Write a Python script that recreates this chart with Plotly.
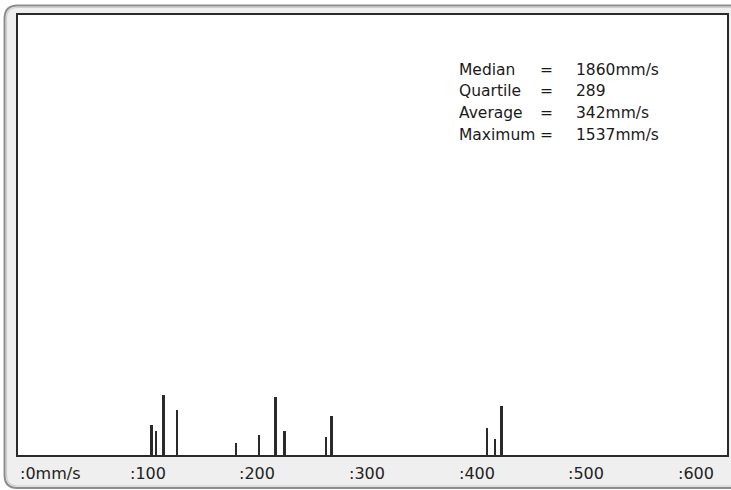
import plotly.graph_objects as go

# ---- data ----
speed_mm_s = [122, 126, 133, 145, 199, 220, 235, 243, 281, 286, 428, 435, 441]
counts = [30, 24, 60, 45, 12, 20, 58, 24, 18, 39, 27, 16, 49]
tick_values = [0, 100, 200, 300, 400, 500, 600]
tick_labels = [":0mm/s", ":100", ":200", ":300", ":400", ":500", ":600"]
stat_names = ["Median", "Quartile", "Average", "Maximum"]
stat_values = ["1860mm/s", "289", "342mm/s", "1537mm/s"]

W, H = 731, 490
L, R, T, B = 18, 2, 15, 35
PW, PH = W - L - R, H - T - B


def px(x):
    return (x - L) / PW


def py(y):
    return (H - B - y) / PH


FONT = "DejaVu Sans, Liberation Sans, Arial, sans-serif"

fig = go.Figure()
fig.add_trace(go.Bar(x=speed_mm_s, y=counts, width=1.8,
                     marker=dict(color="#2a2a2a", line=dict(width=0)),
                     hoverinfo="x+y"))


def frame_path(x0, y0, x1, y1, r):
    rx, ry = r / PW, r / PH
    X0, Y0, X1, Y1 = px(x0), py(y0), px(x1), py(y1)
    return (f"M {X0},{Y1 + ry} L {X0},{Y0 - ry} Q {X0},{Y0} {X0 + rx},{Y0} "
            f"L {X1},{Y0} L {X1},{Y1} L {X0 + rx},{Y1} Q {X0},{Y1} {X0},{Y1 + ry} Z")


shapes = [
    dict(type="path", xref="paper", yref="paper", layer="below",
         path=frame_path(4.5, 5.5, 740, 488, 13),
         fillcolor="#efefef", line=dict(color="#8c8c8c", width=2)),
    dict(type="path", xref="paper", yref="paper", layer="below",
         path=frame_path(6.5, 7.5, 740, 486, 11),
         fillcolor="rgba(0,0,0,0)", line=dict(color="#cfcfcf", width=1.2)),
    dict(type="rect", xref="paper", yref="paper", layer="below",
         x0=0, x1=1, y0=0, y1=1, fillcolor="white", line=dict(width=0)),
]

annotations = []
for v, t in zip(tick_values, tick_labels):
    annotations.append(dict(x=v, y=py(473), xref="x", yref="paper", text=t,
                            showarrow=False, xanchor="left", yanchor="middle",
                            font=dict(family=FONT, size=16, color="#222")))

row_y = [70, 91, 113, 135]
for name, val, yy in zip(stat_names, stat_values, row_y):
    annotations.append(dict(x=px(458), y=py(yy), xref="paper", yref="paper", text=name,
                            showarrow=False, xanchor="left", yanchor="middle",
                            font=dict(family=FONT, size=15.5, color="#1a1a1a")))
    annotations.append(dict(x=px(539), y=py(yy), xref="paper", yref="paper", text="=",
                            showarrow=False, xanchor="left", yanchor="middle",
                            font=dict(family=FONT, size=15.5, color="#1a1a1a")))
    annotations.append(dict(x=px(576), y=py(yy), xref="paper", yref="paper", text=val,
                            showarrow=False, xanchor="left", yanchor="middle",
                            font=dict(family=FONT, size=15.5, color="#1a1a1a")))

fig.update_layout(
    width=W, height=H,
    margin=dict(l=L, r=R, t=T, b=B, pad=0),
    paper_bgcolor="white", plot_bgcolor="rgba(0,0,0,0)",
    showlegend=False, bargap=0,
    shapes=shapes, annotations=annotations,
    xaxis=dict(range=[0, PW / 1.1], showgrid=False, zeroline=False,
               showticklabels=False, ticks="", showline=True, mirror=True,
               linecolor="#2a2a2a", linewidth=2, fixedrange=True),
    yaxis=dict(range=[0, PH], showgrid=False, zeroline=False,
               showticklabels=False, ticks="", showline=True, mirror=True,
               linecolor="#2a2a2a", linewidth=2, fixedrange=True),
)

fig.write_html("out.html", config={"displayModeBar": False},
               post_script="document.body.style.margin='0';document.body.style.overflow='hidden';")
